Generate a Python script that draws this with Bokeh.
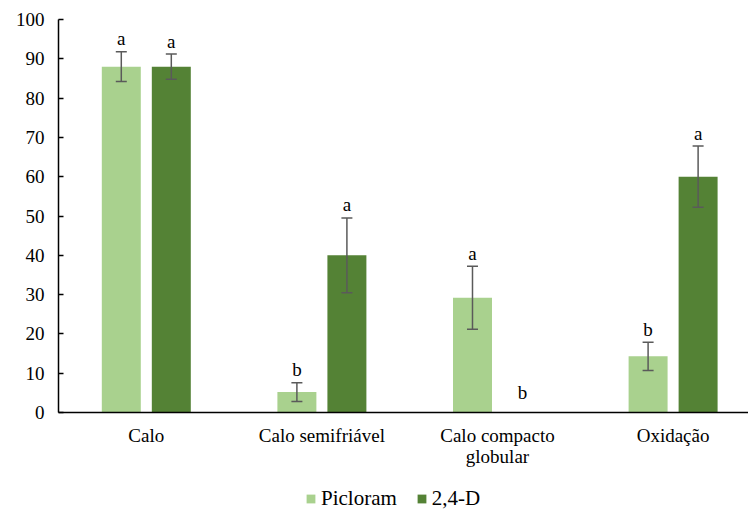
import numpy as np
from bokeh.plotting import figure
from bokeh.layouts import column
from bokeh.models import (ColumnDataSource, Range1d, FixedTicker, Whisker, TeeHead,
                          Legend, LegendItem)
from bokeh.core.properties import value
from bokeh.embed import file_html
from bokeh.resources import INLINE

categories = ["Calo", "Calo semifriável", "Calo compacto\nglobular", "Oxidação"]
series_names = ["Picloram", "2,4-D"]
picloram = [88.0, 5.2, 29.2, 14.3]
picloram_err = [3.8, 2.4, 8.0, 3.6]
picloram_letters = ["a", "b", "a", "b"]
d24 = [88.0, 40.0, 0.0, 60.0]
d24_err = [3.2, 9.5, 0.0, 7.8]
d24_letters = ["a", "a", "b", "a"]
yticks = [0, 10, 20, 30, 40, 50, 60, 70, 80, 90, 100]

FONT = "Liberation Serif"
LIGHT = "#A9D18E"
DARK = "#548235"
ERR = "#5a5a5a"

off = 0.1424
bw = 0.222
xs = np.arange(len(categories)) + 0.5

def src(vals, errs, letters, shift):
    v = np.array(vals)
    e = np.array(errs)
    top = v + e
    ly = np.where(top < 1.5, 1.8, top)
    upper = np.where(e > 0, top, np.nan)
    lower = np.where(e > 0, v - e, np.nan)
    return ColumnDataSource(dict(x=xs + shift, top=v, upper=upper, lower=lower,
                                 ly=ly, lab=letters))

sp = src(picloram, picloram_err, picloram_letters, -off)
sd = src(d24, d24_err, d24_letters, off)

p = figure(width=748, height=472, output_backend="svg", toolbar_location=None,
           x_range=Range1d(0, 690 / 175.6), y_range=Range1d(0, 100),
           min_border_left=58, min_border_right=0, min_border_top=19,
           min_border_bottom=60)
p.outline_line_color = None
p.grid.grid_line_color = None
p.background_fill_color = "white"

p.vbar(x="x", top="top", width=bw, source=sp, fill_color=LIGHT, line_color=None)
p.vbar(x="x", top="top", width=bw, source=sd, fill_color=DARK, line_color=None)

for s in (sp, sd):
    w = Whisker(base="x", upper="upper", lower="lower", source=s, level="overlay",
                line_color=ERR, line_width=1.5,
                upper_head=TeeHead(size=11, line_color=ERR, line_width=1.5),
                lower_head=TeeHead(size=11, line_color=ERR, line_width=1.5))
    p.add_layout(w)
    p.text(x="x", y="ly", text="lab", source=s, text_font=value(FONT),
           text_font_size="19px", text_align="center", text_baseline="alphabetic",
           y_offset=-13, text_color="black")

# axes
p.xaxis.ticker = FixedTicker(ticks=list(xs))
p.xaxis.major_label_overrides = {float(x): c for x, c in zip(xs, categories)}
p.xaxis.major_tick_line_color = None
p.xaxis.minor_tick_line_color = None
p.xaxis.axis_line_color = "black"
p.xaxis.axis_line_width = 1.5
p.xaxis.major_label_text_font = FONT
p.xaxis.major_label_text_font_size = "19px"
p.xaxis.major_label_text_color = "black"
p.xaxis.major_label_text_line_height = 1.0
p.xaxis.major_label_standoff = 6

p.yaxis.ticker = FixedTicker(ticks=yticks)
p.yaxis.minor_tick_line_color = None
p.yaxis.major_tick_in = 5
p.yaxis.major_tick_out = 0
p.yaxis.major_tick_line_color = "black"
p.yaxis.major_tick_line_width = 1.5
p.yaxis.axis_line_color = "black"
p.yaxis.axis_line_width = 1.5
p.yaxis.major_label_text_font = FONT
p.yaxis.major_label_text_font_size = "19px"
p.yaxis.major_label_text_color = "black"
p.yaxis.major_label_standoff = 14

# legend in a small strip below the chart (swatches drawn off-range)
lg = figure(width=748, height=39, output_backend="svg", toolbar_location=None,
            x_axis_type=None, y_axis_type=None, min_border=0,
            x_range=Range1d(0, 1), y_range=Range1d(0, 1))
lg.outline_line_color = None
lg.grid.grid_line_color = None
r1 = lg.vbar(x=[5], top=[1], width=0.1, fill_color=LIGHT, line_color=None)
r2 = lg.vbar(x=[5], top=[1], width=0.1, fill_color=DARK, line_color=None)
legend = Legend(items=[LegendItem(label=series_names[0], renderers=[r1]),
                       LegendItem(label=series_names[1], renderers=[r2])],
                orientation="horizontal", location=(247, 0),
                glyph_width=11, glyph_height=11, label_text_font=FONT,
                label_text_font_size="21px", label_text_color="black",
                label_standoff=5, spacing=19, padding=0, margin=0,
                border_line_color=None, background_fill_alpha=0)
lg.add_layout(legend, "center")

layout = column(p, lg, spacing=0)
open("out.html", "w").write(file_html(layout, INLINE))
